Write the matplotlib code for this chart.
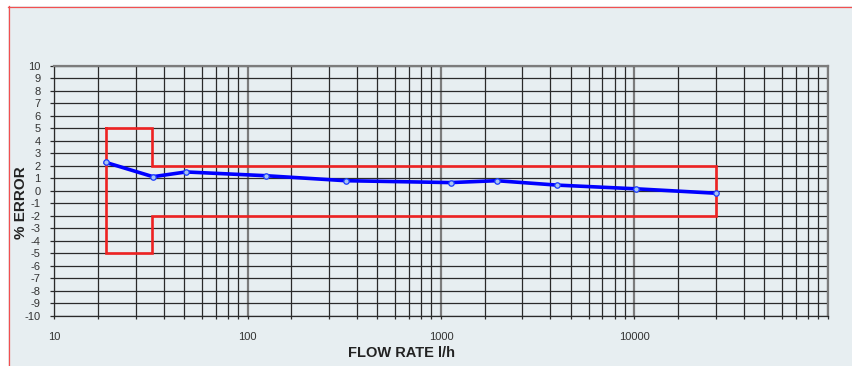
import matplotlib
matplotlib.use("Agg")
import matplotlib.pyplot as plt
from matplotlib.ticker import FixedLocator, NullFormatter
from matplotlib.patches import Rectangle
from matplotlib.lines import Line2D

plt.rcParams['font.family'] = ['Liberation Sans', 'DejaVu Sans']

# ---- data ----
flow_rate = [18.4, 32.4, 48, 124, 321, 1120, 1945, 3960, 10230, 26300]
error_pct = [2.27, 1.12, 1.5, 1.2, 0.8, 0.65, 0.8, 0.45, 0.15, -0.2]

# limit box (maximum permissible error envelope)
q1 = 18.4
q2 = 32.0
q4 = 26300
mpe_low_zone = 5
mpe_high_zone = 2

x_major_ticks = [10, 100, 1000, 10000, 100000]
x_major_labels = ['10', '100', '1000', '10000', '']
y_ticks = list(range(-10, 11))
y_labels = [str(v) for v in y_ticks]

# ---- style ----
BG = '#e7eef1'
W, H = 852, 366
fig = plt.figure(figsize=(W / 100, H / 100), dpi=100, facecolor='white')

# light panel with red top/left border
fig.patches.append(Rectangle((8 / W, 0), 1 - 8 / W, 1 - 6 / H, transform=fig.transFigure,
                             facecolor=BG, edgecolor='none', zorder=-5))
fig.lines.append(Line2D([8 / W, 1], [1 - 6.5 / H, 1 - 6.5 / H], transform=fig.transFigure,
                        color='#f25050', lw=0.9, zorder=-4))
fig.lines.append(Line2D([8.5 / W, 8.5 / W], [0, 1 - 6 / H], transform=fig.transFigure,
                        color='#f25050', lw=0.9, zorder=-4))

left, right = 54.3 / W, 827.7 / W
top, bottom = 1 - 65.7 / H, 1 - 315.7 / H
ax = fig.add_axes([left, bottom, right - left, top - bottom])
ax.set_zorder(1)
ax.set_facecolor(BG)
ax.set_xscale('log')
ax.set_xlim(10, 100000)
ax.set_ylim(-10, 10)

# minor grid positions within each decade (as drawn in the reference)
minor_fracs = [0.226, 0.421, 0.566, 0.670, 0.764, 0.835, 0.899, 0.950]
minor_vals = [10 ** (d + f) for d in range(1, 5) for f in minor_fracs]

ax.xaxis.set_major_locator(FixedLocator(x_major_ticks))
ax.set_xticks(x_major_ticks)
ax.set_xticklabels(x_major_labels)
ax.xaxis.set_minor_locator(FixedLocator(minor_vals))
ax.xaxis.set_minor_formatter(NullFormatter())
ax.set_yticks(y_ticks)
ax.set_yticklabels(y_labels)

ax.grid(which='major', axis='x', color='#7c7c7c', lw=1.6, zorder=1)
ax.grid(which='minor', axis='x', color='#2a2a2a', lw=0.9, zorder=1)
ax.grid(which='major', axis='y', color='#2a2a2a', lw=0.9, zorder=1)
ax.set_axisbelow(True)

for s in ['top', 'right']:
    ax.spines[s].set_color('#7c7c7c')
    ax.spines[s].set_linewidth(1.6)
for s in ['left', 'bottom']:
    ax.spines[s].set_color('#2a2a2a')
    ax.spines[s].set_linewidth(0.9)

ax.tick_params(axis='y', which='major', length=3, width=0.9, color='#2a2a2a',
               labelsize=8, labelcolor='#333333', pad=7)
ax.tick_params(axis='x', which='both', length=2, width=0.9, color='#2a2a2a',
               labelsize=8, labelcolor='#333333', pad=10)

# limit envelope
box_x = [q1, q2, q2, q4, q4, q2, q2, q1, q1]
box_y = [mpe_low_zone, mpe_low_zone, mpe_high_zone, mpe_high_zone, -mpe_high_zone,
         -mpe_high_zone, -mpe_low_zone, -mpe_low_zone, mpe_low_zone]
ax.plot(box_x, box_y, color='#ee2222', lw=1.9, zorder=3, solid_joinstyle='miter')

# error curve
ax.plot(flow_rate, error_pct, color='#0000ff', lw=2.6, zorder=4,
        marker='o', markersize=3.9, markerfacecolor='#a8c4f0',
        markeredgecolor='#1a3cff', markeredgewidth=0.9, solid_joinstyle='round')

fig.text(402 / W, 1 - 353 / H, 'FLOW RATE l/h', ha='center', va='center',
         fontsize=10.5, fontweight='bold', color='#222222')
fig.text(21.5 / W, 1 - 203 / H, '% ERROR', ha='center', va='center', rotation=90,
         fontsize=11, fontweight='bold', color='#222222')

fig.savefig('out.png', dpi=100, facecolor='white')
